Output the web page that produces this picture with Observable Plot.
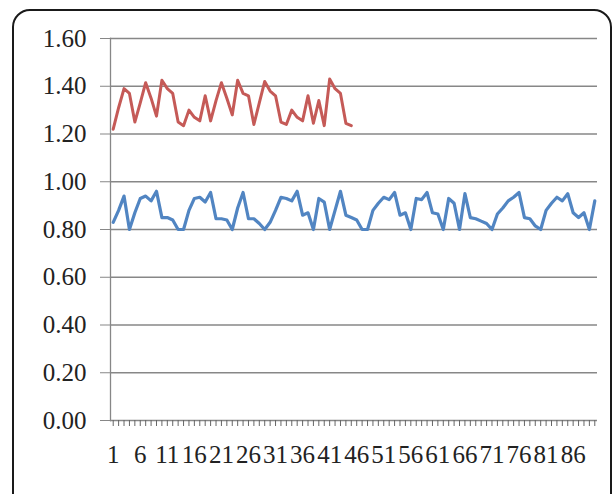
<!DOCTYPE html>
<html><head><meta charset="utf-8">
<script src="https://cdn.jsdelivr.net/npm/d3@7"></script>
<script src="https://cdn.jsdelivr.net/npm/@observablehq/plot@0.6"></script>
<style>
body{margin:0;background:#fff;}
#wrap{position:relative;width:612px;height:494px;overflow:hidden;}
#frame{position:absolute;left:12px;top:9px;width:600px;height:530px;border:2.5px solid #1a1a1a;border-radius:18px;box-sizing:border-box;pointer-events:none;}
</style></head><body>
<div id="wrap"><div id="frame"></div></div>
<script>
const categories = d3.range(1, 91);
const xLabelTicks = [1, 6, 11, 16, 21, 26, 31, 36, 41, 46, 51, 56, 61, 66, 71, 76, 81, 86];
const yTicks = [0, 0.2, 0.4, 0.6, 0.8, 1.0, 1.2, 1.4, 1.6];

const redValues = [1.22, 1.31, 1.39, 1.37, 1.25, 1.33, 1.415, 1.35, 1.275, 1.425,
  1.39, 1.37, 1.25, 1.235, 1.30, 1.27, 1.255, 1.36, 1.255, 1.34,
  1.415, 1.35, 1.28, 1.425, 1.37, 1.36, 1.24, 1.33, 1.42, 1.38,
  1.36, 1.25, 1.24, 1.30, 1.27, 1.255, 1.36, 1.245, 1.34, 1.235,
  1.43, 1.39, 1.37, 1.245, 1.235];

const blueValues = [0.83, 0.88, 0.94, 0.80, 0.87, 0.93, 0.94, 0.92, 0.96, 0.85,
  0.85, 0.84, 0.80, 0.80, 0.88, 0.93, 0.935, 0.915, 0.955, 0.845,
  0.845, 0.84, 0.80, 0.89, 0.955, 0.845, 0.845, 0.825, 0.80, 0.83,
  0.88, 0.935, 0.93, 0.92, 0.96, 0.86, 0.87, 0.80, 0.93, 0.915,
  0.80, 0.88, 0.96, 0.86, 0.85, 0.84, 0.80, 0.80, 0.88, 0.91,
  0.935, 0.925, 0.955, 0.86, 0.87, 0.80, 0.93, 0.925, 0.955, 0.87,
  0.865, 0.80, 0.93, 0.91, 0.80, 0.95, 0.85, 0.845, 0.835, 0.825,
  0.80, 0.865, 0.89, 0.92, 0.935, 0.955, 0.85, 0.845, 0.815, 0.80,
  0.88, 0.91, 0.935, 0.92, 0.95, 0.87, 0.85, 0.87, 0.80, 0.92];

const redData = redValues.map((v, i) => ({x: categories[i], y: v}));
const blueData = blueValues.map((v, i) => ({x: categories[i], y: v}));

const gridColor = "#878787";
const chart = Plot.plot({
  width: 612, height: 494,
  marginLeft: 110, marginRight: 15, marginTop: 38, marginBottom: 74,
  style: {fontFamily: "'Liberation Serif', 'Times New Roman', serif", fontSize: "25px", color: "#222", background: "transparent"},
  x: {type: "point", domain: categories, padding: 0.5},
  y: {domain: [0, 1.6]},
  marks: [
    Plot.gridY(yTicks, {stroke: gridColor, strokeOpacity: 1, strokeWidth: 1.3}),
    Plot.frame({anchor: "left", stroke: gridColor, strokeWidth: 1.3}),
    Plot.axisY(yTicks, {tickSize: 10, tickPadding: 14, stroke: gridColor, tickFormat: d3.format(".2f"), label: null}),
    Plot.axisX(categories, {tickSize: 6, tickFormat: () => "", stroke: "#666", label: null}),
    Plot.axisX(xLabelTicks, {tickSize: 0, tickPadding: 25, label: null}),
    Plot.line(redData, {x: "x", y: "y", stroke: "#C55A57", strokeWidth: 3}),
    Plot.line(blueData, {x: "x", y: "y", stroke: "#5185C2", strokeWidth: 3.2})
  ]
});
document.getElementById("wrap").insertBefore(chart, document.getElementById("frame"));
</script>
</body></html>
